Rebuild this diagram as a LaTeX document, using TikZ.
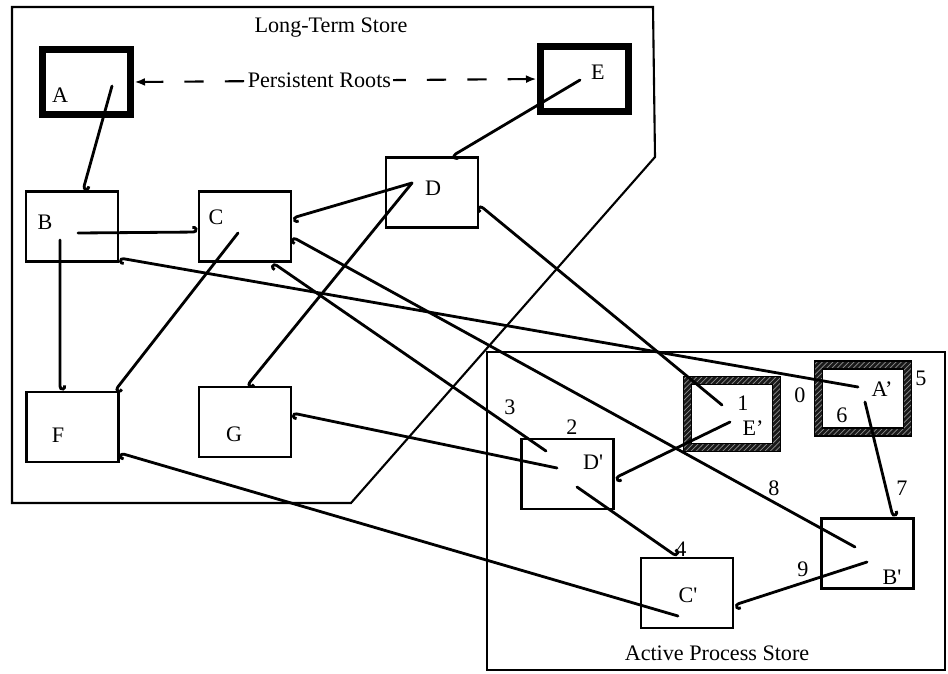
\documentclass[tikz,border=0pt]{standalone}
\usepackage{fontspec}
\setmainfont{Liberation Serif}
\usetikzlibrary{arrows.meta,patterns}

\begin{document}
\begin{tikzpicture}[x=0.2mm, y=-0.2mm, line width=1.6pt, line cap=round,
  font=\fontsize{12.6}{14}\selectfont,
  obj/.style={draw, rectangle, minimum width=18.4mm, minimum height=14mm, inner sep=0pt},
  root/.style={obj, line width=4.5pt, minimum width=17.6mm, minimum height=13mm},
  live/.style={obj, draw=none, minimum width=17.2mm, minimum height=12.8mm},
  hatch/.style={fill=black!90, even odd rule,
    postaction={pattern=north east lines, pattern color=black!45, even odd rule}},
  ptr/.style={-{Hooks[arc=200, length=2.4pt, width=7pt, left]}}]
\useasboundingbox (0,0) rectangle (948,673);
% Stores
\draw[line width=1.2pt, line cap=butt] (12,7) -- (653,7) -- (655,157) -- (351,503) -- (12,503) -- cycle;
\draw[line width=1.2pt, line cap=butt] (487,352) rectangle (945,670);
\node (lts) at (331,28) {Long-Term Store};
\node (aps) at (717,653) {Active Process Store};
% Objects
\node[root] (A) at (86.5,82) {};
\node[root] (E) at (584.5,79) {};
\node[obj] (B) at (72,226.5) {};
\node[obj] (C) at (245,226.5) {};
\node[obj] (D) at (432,192.5) {};
\node[obj] (F) at (72.5,427) {};
\node[obj] (G) at (245,422) {};
\node[live] (Ep) at (732,414) {};
\node[live] (Ap) at (863,398.5) {};
\node[obj] (Dp) at (567.5,474) {};
\node[obj] (Cp) at (687,593) {};
\node[obj] (Bp) at (867.5,553.5) {};
% hatched frames of the live roots
\foreach \n in {Ep,Ap}{
  \path[hatch] ([shift={(-0.8mm,0.8mm)}]\n.north west) rectangle ([shift={(0.8mm,-0.8mm)}]\n.south east)
    ([shift={(0.8mm,-0.8mm)}]\n.north west) rectangle ([shift={(-0.8mm,0.8mm)}]\n.south east);
  \draw[line width=0.8pt] ([shift={(-0.8mm,0.8mm)}]\n.north west) rectangle ([shift={(0.8mm,-0.8mm)}]\n.south east)
    ([shift={(0.8mm,-0.8mm)}]\n.north west) rectangle ([shift={(-0.8mm,0.8mm)}]\n.south east);
}
% Letters
\node (lA) at (60,95) {A};
\node (lE) at (598,72) {E};
\node (lB) at (45,222) {B};
\node (lC) at (216,217) {C};
\node (lD) at (433,188) {D};
\node (lF) at (58,435) {F};
\node (lG) at (234,434) {G};
\node (lEp) at (753,428) {E'};
\node (lAp) at (882,389) {A'};
\node (lDp) at (593,462) {D\textquotesingle};
\node (lCp) at (688,595) {C\textquotesingle};
\node (lBp) at (892,577) {B\textquotesingle};
% Copy order
\node (n0) at (800,395) {0};
\node (n1) at (743,403) {1};
\node (n2) at (572,427) {2};
\node (n3) at (510,407) {3};
\node (n4) at (681,549) {4};
\node (n5) at (921,378) {5};
\node (n6) at (842,415) {6};
\node (n7) at (902,488) {7};
\node (n8) at (774,488) {8};
\node (n9) at (803,569) {9};
% Pointer fields
\coordinate (pA) at (112,86);
\coordinate (pE) at (580,80);
\coordinate (pB1) at (78,233);
\coordinate (pB2) at (60,240);
\coordinate (pC) at (238,233);
\coordinate (pD) at (412,183);
\coordinate (pEp1) at (722,405);
\coordinate (pEp2) at (730,422);
\coordinate (pAp1) at (858,387);
\coordinate (pAp2) at (865,402);
\coordinate (pDp1) at (546,451);
\coordinate (pDp2) at (557,468);
\coordinate (pDp3) at (577,487);
\coordinate (pCp) at (678,616);
\coordinate (pBp1) at (855,547);
\coordinate (pBp2) at (867,562);
% Persistent roots
\draw[line width=1.2pt, line cap=butt, dash pattern=on 11pt off 12pt, {Latex[length=6pt]}-{Latex[length=6pt]}]
  (A.east) -- node[fill=white, pos=0.46, inner sep=1pt] (pr) {Persistent Roots} (E.west);
% Pointers
\draw[ptr] (pA) -- ([xshift=2.2mm]B.north);
\draw[ptr] (pB1) -- ([yshift=-1.1mm]C.west);
\draw[ptr] (pB2) -- ([xshift=-2.5mm]F.north);
\draw[ptr] (pC) -- ([xshift=8.5mm]F.north);
\draw[ptr] (pD) -- ([yshift=1.7mm]C.east);
\draw[ptr] (pD) -- ([xshift=0.4mm]G.north);
\draw[ptr] (pE) -- ([xshift=4mm]D.north);
\draw[ptr] (pEp1) -- ([yshift=-2.5mm]D.east);
\draw[ptr] (pAp1) -- ([yshift=-6.3mm]B.east);
\draw[ptr] (pBp1) -- ([yshift=-2.1mm]C.east);
\draw[ptr] (pDp1) -- ([xshift=5.6mm]C.south);
\draw[ptr] (pDp2) -- ([yshift=1.8mm]G.east);
\draw[ptr] (pEp2) -- ([yshift=-0.8mm]Dp.east);
\draw[ptr] (pDp3) -- ([xshift=-2mm]Cp.north);
\draw[ptr] (pCp) -- ([yshift=-5.2mm]F.east);
\draw[ptr] (pBp2) -- ([yshift=-2.4mm]Cp.east);
\draw[ptr] (pAp2) -- ([xshift=5.1mm]Bp.north);
\end{tikzpicture}
\end{document}
